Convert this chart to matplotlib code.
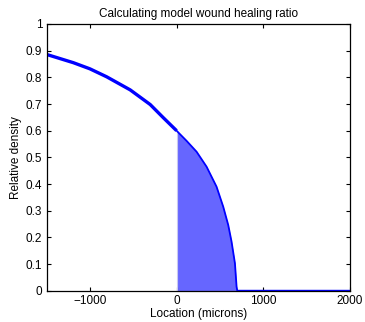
import matplotlib
matplotlib.use('Agg')
import matplotlib.pyplot as plt

# values
location = [-1500, -1191, -1000, -806, -535, -304, -154, 0, 115, 231, 346, 461,
            538, 596, 634, 673, 692, 700, 2000]
density = [0.886, 0.855, 0.832, 0.802, 0.753, 0.698, 0.649, 0.600, 0.562, 0.521,
           0.465, 0.39, 0.315, 0.246, 0.184, 0.103, 0.015, 0.0, 0.0]

xticks = [-1000, 0, 1000, 2000]
xticklabels = ['\u22121000', '0', '1000', '2000']
yticks = [0, 0.1, 0.2, 0.3, 0.4, 0.5, 0.6, 0.7, 0.8, 0.9, 1]
yticklabels = ['0', '0.1', '0.2', '0.3', '0.4', '0.5', '0.6', '0.7', '0.8', '0.9', '1']

plt.rcParams['font.family'] = ['Liberation Sans', 'DejaVu Sans']
FS = 8.5

fig = plt.figure(figsize=(3.65, 3.22), dpi=100)
ax = fig.add_axes([46.5/365, 1 - 290.7/322, (350 - 46.5)/365, (290.7 - 24)/322])

# shaded region between 0 and the front
xs = [x for x in location if x >= 0]
ys = [d for x, d in zip(location, density) if x >= 0]
ax.fill_between(xs, ys, 0, color='#6666ff', linewidth=0)
ax.plot([0, 0], [0, 0.6], color='#c8c8f0', lw=0.8)

# curve: thicker on the left part
left = [i for i, x in enumerate(location) if x <= 0]
ax.plot([location[i] for i in left], [density[i] for i in left], color='#0000ff', lw=2.4,
        solid_capstyle='butt')
ax.plot(xs, ys, color='#0000ff', lw=1.3)

ax.set_xlim(-1500, 2000)
ax.set_ylim(0, 1)
ax.set_xticks(xticks)
ax.set_xticklabels(xticklabels)
ax.set_yticks(yticks)
ax.set_yticklabels(yticklabels)
ax.tick_params(direction='in', length=3, width=0.8, top=True, right=True, pad=3,
               labelsize=FS)
for s in ax.spines.values():
    s.set_linewidth(0.9)

ax.set_title('Calculating model wound healing ratio', fontsize=FS, pad=5)
ax.set_xlabel('Location (microns)', fontsize=FS, labelpad=1)
ax.set_ylabel('Relative density', fontsize=FS, labelpad=3)

fig.savefig('out.png', dpi=100)
